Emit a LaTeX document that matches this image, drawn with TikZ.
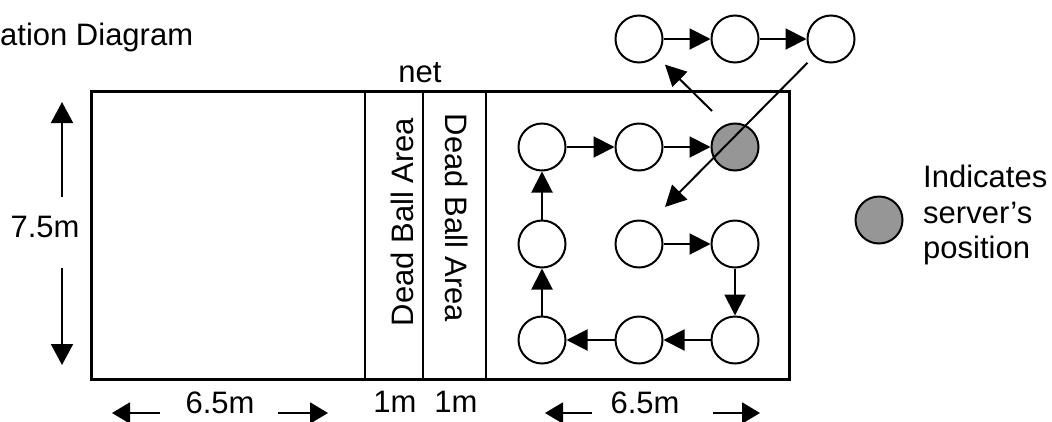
\documentclass[tikz,border=0pt]{standalone}
\usepackage{fontspec}
\setmainfont{Liberation Sans}
\usetikzlibrary{arrows.meta}
\definecolor{srvgray}{RGB}{150,150,150}
\begin{document}
\begin{tikzpicture}[x=1pt,y=-1pt,
  ball/.style={circle,draw,line width=2pt,minimum size=47pt,inner sep=0pt,fill=white},
  server/.style={ball,fill=srvgray},
  conn/.style={line width=2pt,-{Triangle[length=21pt,width=21pt]}},
  dimv/.style={line width=2pt,-{Triangle[length=21pt,width=22pt]}},
  dimh/.style={line width=2pt,-{Triangle[length=18pt,width=21pt]}},
  lbl/.style={font=\fontsize{31}{36}\selectfont,inner sep=0pt,anchor=base},
  courtline/.style={line width=2.5pt}]
\useasboundingbox (0,0) rectangle (1052,421);
% title
\node[lbl,anchor=base west] (title) at (0,45) {ation Diagram};
% court
\node[draw,line width=3pt,minimum width=698pt,minimum height=288pt,inner sep=0pt,anchor=north west] (court) at (90,90) {};
\draw[courtline] (365,90) -- (365,378);
\draw[courtline] (423,90) -- (423,378);
\draw[courtline] (486,90) -- (486,378);
\node[lbl] (net) at (420,82) {net};
\node[lbl,rotate=90] (dba1) at (413,222) {Dead Ball Area};
\node[lbl,rotate=-90] (dba2) at (445,218) {Dead Ball Area};
% circles in court
\node[ball] (a1) at (542,147) {};
\node[ball] (a2) at (639,147) {};
\node[server] (a3) at (735,147) {};
\node[ball] (b1) at (542,244) {};
\node[ball] (b2) at (639,244) {};
\node[ball] (b3) at (735,244) {};
\node[ball] (c1) at (542,340) {};
\node[ball] (c2) at (639,340) {};
\node[ball] (c3) at (735,340) {};
% circles above
\node[ball] (t1) at (639,39) {};
\node[ball] (t2) at (735,39) {};
\node[ball] (t3) at (831,39) {};
% rotation arrows
\draw[conn] (a1) -- (a2);
\draw[conn] (a2) -- (a3);
\draw[conn] (b2) -- (b3);
\draw[conn] (b3) -- (c3);
\draw[conn] (c3) -- (c2);
\draw[conn] (c2) -- (c1);
\draw[conn] (c1) -- (b1);
\draw[conn] (b1) -- (a1);
\draw[conn] (t1) -- (t2);
\draw[conn] (t2) -- (t3);
\coordinate (d1s) at (712,111);
\coordinate (d2e) at (665,207);
\draw[conn,shorten >=12pt] (d1s) -- (t1);
\draw[conn,shorten <=9pt] (t3) -- (d2e);
% legend
\node[server] (leg) at (879,220) {};
\node[lbl,anchor=base west] (leg1) at (923,187) {Indicates};
\node[lbl,anchor=base west] (leg2) at (923,223) {server’s};
\node[lbl,anchor=base west] (leg3) at (923,258) {position};
% vertical dimension
\node[lbl] (len75) at (45,237) {7.5m};
\coordinate (vt1) at (62,197);
\coordinate (vt2) at (62,102);
\coordinate (vb1) at (62,268);
\coordinate (vb2) at (62,365);
\draw[dimv] (vt1) -- (vt2);
\draw[dimv] (vb1) -- (vb2);
% bottom dimensions
\node[lbl] (w1) at (220,413) {6.5m};
\node[lbl] (w2) at (395,412) {1m};
\node[lbl] (w3) at (456,412) {1m};
\node[lbl] (w4) at (645,413) {6.5m};
\coordinate (h1a) at (160,413);
\coordinate (h1b) at (112,413);
\coordinate (h2a) at (278,413);
\coordinate (h2b) at (328,413);
\coordinate (h3a) at (592,413);
\coordinate (h3b) at (545,413);
\coordinate (h4a) at (713,413);
\coordinate (h4b) at (760,413);
\draw[dimh] (h1a) -- (h1b);
\draw[dimh] (h2a) -- (h2b);
\draw[dimh] (h3a) -- (h3b);
\draw[dimh] (h4a) -- (h4b);
\end{tikzpicture}
\end{document}
